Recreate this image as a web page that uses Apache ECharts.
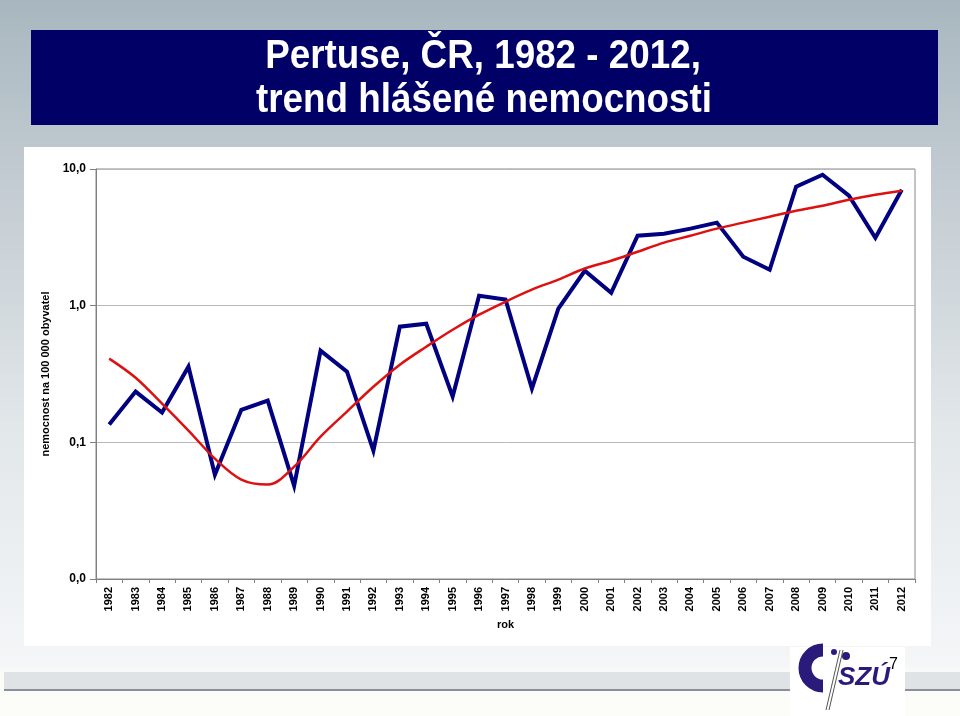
<!DOCTYPE html>
<html>
<head>
<meta charset="utf-8">
<script src="https://cdn.jsdelivr.net/npm/echarts@6/dist/echarts.min.js"></script>
<style>
html,body{margin:0;padding:0;width:960px;height:716px;overflow:hidden;}
#c{width:960px;height:716px;}
</style>
</head>
<body>
<div id="c"></div>
<script>
const years = ['1982','1983','1984','1985','1986','1987','1988','1989','1990','1991','1992','1993','1994','1995','1996','1997','1998','1999','2000','2001','2002','2003','2004','2005','2006','2007','2008','2009','2010','2011','2012'];
const incidence = [0.135,0.235,0.165,0.358,0.058,0.173,0.202,0.048,0.469,0.329,0.087,0.702,0.738,0.216,1.18,1.11,0.247,0.95,1.80,1.24,3.25,3.36,3.66,4.05,2.28,1.83,7.42,9.08,6.38,3.14,7.06];
const trend = [0.410,0.297,0.192,0.122,0.076,0.0534,0.0491,0.0664,0.110,0.168,0.255,0.370,0.501,0.667,0.859,1.07,1.31,1.55,1.87,2.13,2.48,2.89,3.25,3.66,4.05,4.48,4.95,5.39,5.96,6.49,6.94];
const titleLines = ['Pertuse, ČR, 1982 - 2012,', 'trend hlášené nemocnosti'];
const yAxisName = 'nemocnost na 100 000 obyvatel';
const xAxisName = 'rok';

const chart = echarts.init(document.getElementById('c'));
const bold = 'Liberation Sans, Arial, sans-serif';
const titleFont = 'bold 40px "Liberation Sans", Arial';
chart.setOption({
  animation: false,
  backgroundColor: {
    type: 'linear', x: 0, y: 0, x2: 0, y2: 1,
    colorStops: [
      {offset: 0, color: '#a8b7bf'},
      {offset: 0.25, color: '#c2cbd1'},
      {offset: 0.6, color: '#e2e7ea'},
      {offset: 0.93, color: '#f4f6f8'},
      {offset: 0.94, color: '#fbfbf8'},
      {offset: 1, color: '#fcfcf9'}
    ]
  },
  graphic: [
    {type: 'rect', shape: {x: 31, y: 30, width: 907, height: 95}, style: {fill: '#000066'}, z: 0},
    {type: 'text', x: 483, y: 57, scaleX: 0.92, style: {text: titleLines[0], fill: '#ffffff', font: titleFont, align: 'center', verticalAlign: 'middle'}, z: 1},
    {type: 'text', x: 484, y: 101, scaleX: 0.92, style: {text: titleLines[1], fill: '#ffffff', font: titleFont, align: 'center', verticalAlign: 'middle'}, z: 1},
    {type: 'rect', shape: {x: 24, y: 147, width: 907, height: 499}, style: {fill: '#ffffff'}, z: -10},
    {type: 'rect', shape: {x: 4, y: 672, width: 956, height: 17}, style: {fill: '#dfe3e6'}, z: -10},
    {type: 'rect', shape: {x: 4, y: 689, width: 956, height: 2}, style: {fill: '#8a8f99'}, z: -10},
    {type: 'rect', shape: {x: 790, y: 647, width: 115, height: 69}, style: {fill: '#ffffff'}, z: -9},
    {type: 'arc', shape: {cx: 823, cy: 668, r: 18, startAngle: Math.PI * 0.5, endAngle: Math.PI * 1.5}, style: {stroke: '#2a1a7a', lineWidth: 13, fill: null}, z: 2},
    {type: 'circle', shape: {cx: 834, cy: 652, r: 3}, style: {fill: '#2a1a7a'}, z: 2},
    {type: 'circle', shape: {cx: 846, cy: 656, r: 4}, style: {fill: '#2a1a7a'}, z: 2},
    {type: 'line', shape: {x1: 840, y1: 650, x2: 826, y2: 710}, style: {stroke: '#555555', lineWidth: 1}, z: 2},
    {type: 'line', shape: {x1: 843, y1: 650, x2: 829, y2: 710}, style: {stroke: '#555555', lineWidth: 1}, z: 2},
    {type: 'text', x: 838, y: 691, style: {text: 'SZÚ', fill: '#2a1a7a', font: 'italic bold 26px "Liberation Sans", Arial', textVerticalAlign: 'bottom'}, z: 2},
    {type: 'text', x: 889, y: 657, style: {text: '7', fill: '#000000', font: '16px "Liberation Sans", Arial'}, z: 3}
  ],
  grid: {left: 96, right: 45, top: 169, bottom: 137, show: true, borderColor: '#888888', borderWidth: 1, backgroundColor: 'transparent'},
  xAxis: {
    type: 'category', data: years, boundaryGap: true,
    name: xAxisName, nameLocation: 'middle', nameGap: 40,
    nameTextStyle: {fontFamily: bold, fontWeight: 'bold', fontSize: 11, color: '#000'},
    axisLine: {lineStyle: {color: '#808080', width: 1}},
    axisTick: {show: true, interval: 0, length: 4, lineStyle: {color: '#808080'}},
    axisLabel: {interval: 0, rotate: 90, fontFamily: bold, fontWeight: 'bold', fontSize: 11, color: '#000', margin: 8}
  },
  yAxis: {
    type: 'log', logBase: 10, min: 0.01, max: 10,
    name: yAxisName, nameLocation: 'middle', nameGap: 44, nameRotate: 90,
    nameTextStyle: {fontFamily: bold, fontWeight: 'bold', fontSize: 11, color: '#000'},
    axisLine: {show: true, lineStyle: {color: '#808080', width: 1}},
    axisTick: {show: true, length: 6, inside: false, lineStyle: {color: '#808080'}},
    minorTick: {show: false},
    splitLine: {show: true, lineStyle: {color: '#b8b8b8', width: 1}},
    axisLabel: {
      fontFamily: bold, fontWeight: 'bold', fontSize: 12, color: '#000', margin: 10,
      formatter: v => Number(v).toFixed(1).replace('.', ',')
    }
  },
  series: [
    {type: 'line', data: trend, smooth: 0.35, symbol: 'none', lineStyle: {color: '#dd1111', width: 2.5}, z: 3},
    {type: 'line', data: incidence, symbol: 'none', lineStyle: {color: '#000080', width: 4, join: 'miter'}, z: 2}
  ]
});
</script>
</body>
</html>
